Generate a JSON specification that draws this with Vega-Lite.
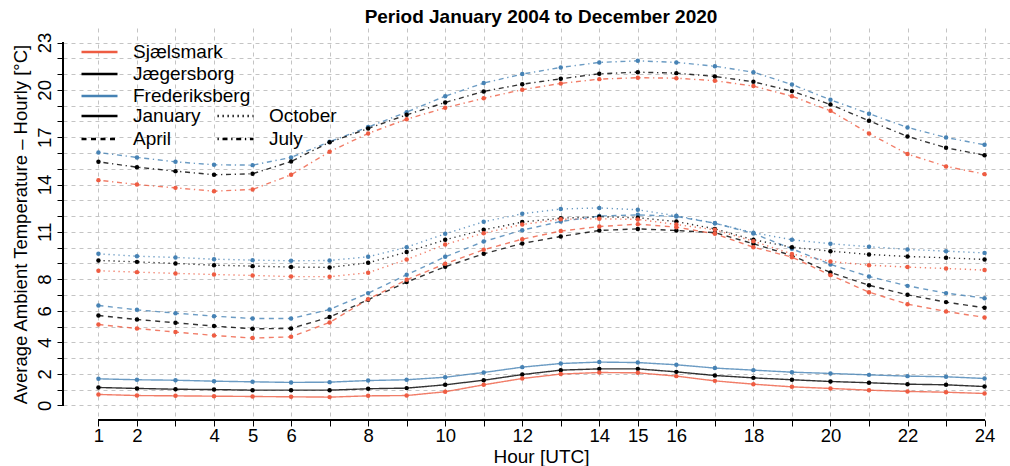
{
  "$schema": "https://vega.github.io/schema/vega-lite/v6.json",
  "width": 947,
  "height": 392,
  "autosize": {"type": "none"},
  "padding": {"left": 63, "top": 28, "right": 0, "bottom": 46},
  "background": "white",
  "title": {
    "text": "Period January 2004 to December 2020",
    "font": "Liberation Sans",
    "fontSize": 19,
    "fontWeight": "bold",
    "color": "black",
    "anchor": "middle",
    "dx": 4.5,
    "offset": 1
  },
  "config": {
    "view": {"stroke": null},
    "font": "Liberation Sans"
  },
  "datasets": {
    "hourly": [
      {"site": "Frederiksberg", "month": "January", "hour": 1, "temp": 1.69},
      {"site": "Frederiksberg", "month": "January", "hour": 2, "temp": 1.63},
      {"site": "Frederiksberg", "month": "January", "hour": 3, "temp": 1.60},
      {"site": "Frederiksberg", "month": "January", "hour": 4, "temp": 1.54},
      {"site": "Frederiksberg", "month": "January", "hour": 5, "temp": 1.50},
      {"site": "Frederiksberg", "month": "January", "hour": 6, "temp": 1.46},
      {"site": "Frederiksberg", "month": "January", "hour": 7, "temp": 1.48},
      {"site": "Frederiksberg", "month": "January", "hour": 8, "temp": 1.58},
      {"site": "Frederiksberg", "month": "January", "hour": 9, "temp": 1.63},
      {"site": "Frederiksberg", "month": "January", "hour": 10, "temp": 1.79},
      {"site": "Frederiksberg", "month": "January", "hour": 11, "temp": 2.09},
      {"site": "Frederiksberg", "month": "January", "hour": 12, "temp": 2.43},
      {"site": "Frederiksberg", "month": "January", "hour": 13, "temp": 2.66},
      {"site": "Frederiksberg", "month": "January", "hour": 14, "temp": 2.75},
      {"site": "Frederiksberg", "month": "January", "hour": 15, "temp": 2.72},
      {"site": "Frederiksberg", "month": "January", "hour": 16, "temp": 2.58},
      {"site": "Frederiksberg", "month": "January", "hour": 17, "temp": 2.37},
      {"site": "Frederiksberg", "month": "January", "hour": 18, "temp": 2.24},
      {"site": "Frederiksberg", "month": "January", "hour": 19, "temp": 2.11},
      {"site": "Frederiksberg", "month": "January", "hour": 20, "temp": 2.03},
      {"site": "Frederiksberg", "month": "January", "hour": 21, "temp": 1.94},
      {"site": "Frederiksberg", "month": "January", "hour": 22, "temp": 1.86},
      {"site": "Frederiksberg", "month": "January", "hour": 23, "temp": 1.82},
      {"site": "Frederiksberg", "month": "January", "hour": 24, "temp": 1.71},

      {"site": "Jægersborg", "month": "January", "hour": 1, "temp": 1.14},
      {"site": "Jægersborg", "month": "January", "hour": 2, "temp": 1.08},
      {"site": "Jægersborg", "month": "January", "hour": 3, "temp": 1.03},
      {"site": "Jægersborg", "month": "January", "hour": 4, "temp": 1.01},
      {"site": "Jægersborg", "month": "January", "hour": 5, "temp": 0.97},
      {"site": "Jægersborg", "month": "January", "hour": 6, "temp": 0.97},
      {"site": "Jægersborg", "month": "January", "hour": 7, "temp": 0.97},
      {"site": "Jægersborg", "month": "January", "hour": 8, "temp": 1.06},
      {"site": "Jægersborg", "month": "January", "hour": 9, "temp": 1.10},
      {"site": "Jægersborg", "month": "January", "hour": 10, "temp": 1.31},
      {"site": "Jægersborg", "month": "January", "hour": 11, "temp": 1.60},
      {"site": "Jægersborg", "month": "January", "hour": 12, "temp": 1.96},
      {"site": "Jægersborg", "month": "January", "hour": 13, "temp": 2.24},
      {"site": "Jægersborg", "month": "January", "hour": 14, "temp": 2.32},
      {"site": "Jægersborg", "month": "January", "hour": 15, "temp": 2.32},
      {"site": "Jægersborg", "month": "January", "hour": 16, "temp": 2.13},
      {"site": "Jægersborg", "month": "January", "hour": 17, "temp": 1.90},
      {"site": "Jægersborg", "month": "January", "hour": 18, "temp": 1.75},
      {"site": "Jægersborg", "month": "January", "hour": 19, "temp": 1.63},
      {"site": "Jægersborg", "month": "January", "hour": 20, "temp": 1.52},
      {"site": "Jægersborg", "month": "January", "hour": 21, "temp": 1.44},
      {"site": "Jægersborg", "month": "January", "hour": 22, "temp": 1.35},
      {"site": "Jægersborg", "month": "January", "hour": 23, "temp": 1.31},
      {"site": "Jægersborg", "month": "January", "hour": 24, "temp": 1.20},

      {"site": "Sjælsmark", "month": "January", "hour": 1, "temp": 0.70},
      {"site": "Sjælsmark", "month": "January", "hour": 2, "temp": 0.63},
      {"site": "Sjælsmark", "month": "January", "hour": 3, "temp": 0.61},
      {"site": "Sjælsmark", "month": "January", "hour": 4, "temp": 0.59},
      {"site": "Sjælsmark", "month": "January", "hour": 5, "temp": 0.57},
      {"site": "Sjælsmark", "month": "January", "hour": 6, "temp": 0.55},
      {"site": "Sjælsmark", "month": "January", "hour": 7, "temp": 0.53},
      {"site": "Sjælsmark", "month": "January", "hour": 8, "temp": 0.61},
      {"site": "Sjælsmark", "month": "January", "hour": 9, "temp": 0.63},
      {"site": "Sjælsmark", "month": "January", "hour": 10, "temp": 0.87},
      {"site": "Sjælsmark", "month": "January", "hour": 11, "temp": 1.31},
      {"site": "Sjælsmark", "month": "January", "hour": 12, "temp": 1.71},
      {"site": "Sjælsmark", "month": "January", "hour": 13, "temp": 1.99},
      {"site": "Sjælsmark", "month": "January", "hour": 14, "temp": 2.09},
      {"site": "Sjælsmark", "month": "January", "hour": 15, "temp": 2.07},
      {"site": "Sjælsmark", "month": "January", "hour": 16, "temp": 1.86},
      {"site": "Sjælsmark", "month": "January", "hour": 17, "temp": 1.56},
      {"site": "Sjælsmark", "month": "January", "hour": 18, "temp": 1.35},
      {"site": "Sjælsmark", "month": "January", "hour": 19, "temp": 1.18},
      {"site": "Sjælsmark", "month": "January", "hour": 20, "temp": 1.08},
      {"site": "Sjælsmark", "month": "January", "hour": 21, "temp": 0.97},
      {"site": "Sjælsmark", "month": "January", "hour": 22, "temp": 0.89},
      {"site": "Sjælsmark", "month": "January", "hour": 23, "temp": 0.84},
      {"site": "Sjælsmark", "month": "January", "hour": 24, "temp": 0.76},

      {"site": "Frederiksberg", "month": "April", "hour": 1, "temp": 6.34},
      {"site": "Frederiksberg", "month": "April", "hour": 2, "temp": 6.06},
      {"site": "Frederiksberg", "month": "April", "hour": 3, "temp": 5.85},
      {"site": "Frederiksberg", "month": "April", "hour": 4, "temp": 5.66},
      {"site": "Frederiksberg", "month": "April", "hour": 5, "temp": 5.51},
      {"site": "Frederiksberg", "month": "April", "hour": 6, "temp": 5.51},
      {"site": "Frederiksberg", "month": "April", "hour": 7, "temp": 6.08},
      {"site": "Frederiksberg", "month": "April", "hour": 8, "temp": 7.12},
      {"site": "Frederiksberg", "month": "April", "hour": 9, "temp": 8.28},
      {"site": "Frederiksberg", "month": "April", "hour": 10, "temp": 9.42},
      {"site": "Frederiksberg", "month": "April", "hour": 11, "temp": 10.39},
      {"site": "Frederiksberg", "month": "April", "hour": 12, "temp": 11.11},
      {"site": "Frederiksberg", "month": "April", "hour": 13, "temp": 11.66},
      {"site": "Frederiksberg", "month": "April", "hour": 14, "temp": 12.00},
      {"site": "Frederiksberg", "month": "April", "hour": 15, "temp": 12.08},
      {"site": "Frederiksberg", "month": "April", "hour": 16, "temp": 11.98},
      {"site": "Frederiksberg", "month": "April", "hour": 17, "temp": 11.55},
      {"site": "Frederiksberg", "month": "April", "hour": 18, "temp": 10.90},
      {"site": "Frederiksberg", "month": "April", "hour": 19, "temp": 9.93},
      {"site": "Frederiksberg", "month": "April", "hour": 20, "temp": 8.94},
      {"site": "Frederiksberg", "month": "April", "hour": 21, "temp": 8.17},
      {"site": "Frederiksberg", "month": "April", "hour": 22, "temp": 7.58},
      {"site": "Frederiksberg", "month": "April", "hour": 23, "temp": 7.12},
      {"site": "Frederiksberg", "month": "April", "hour": 24, "temp": 6.80},

      {"site": "Jægersborg", "month": "April", "hour": 1, "temp": 5.70},
      {"site": "Jægersborg", "month": "April", "hour": 2, "temp": 5.45},
      {"site": "Jægersborg", "month": "April", "hour": 3, "temp": 5.24},
      {"site": "Jægersborg", "month": "April", "hour": 4, "temp": 5.03},
      {"site": "Jægersborg", "month": "April", "hour": 5, "temp": 4.86},
      {"site": "Jægersborg", "month": "April", "hour": 6, "temp": 4.88},
      {"site": "Jægersborg", "month": "April", "hour": 7, "temp": 5.60},
      {"site": "Jægersborg", "month": "April", "hour": 8, "temp": 6.70},
      {"site": "Jægersborg", "month": "April", "hour": 9, "temp": 7.82},
      {"site": "Jægersborg", "month": "April", "hour": 10, "temp": 8.79},
      {"site": "Jægersborg", "month": "April", "hour": 11, "temp": 9.61},
      {"site": "Jægersborg", "month": "April", "hour": 12, "temp": 10.27},
      {"site": "Jægersborg", "month": "April", "hour": 13, "temp": 10.71},
      {"site": "Jægersborg", "month": "April", "hour": 14, "temp": 11.09},
      {"site": "Jægersborg", "month": "April", "hour": 15, "temp": 11.19},
      {"site": "Jægersborg", "month": "April", "hour": 16, "temp": 11.09},
      {"site": "Jægersborg", "month": "April", "hour": 17, "temp": 10.95},
      {"site": "Jægersborg", "month": "April", "hour": 18, "temp": 10.25},
      {"site": "Jægersborg", "month": "April", "hour": 19, "temp": 9.50},
      {"site": "Jægersborg", "month": "April", "hour": 20, "temp": 8.43},
      {"site": "Jægersborg", "month": "April", "hour": 21, "temp": 7.62},
      {"site": "Jægersborg", "month": "April", "hour": 22, "temp": 7.01},
      {"site": "Jægersborg", "month": "April", "hour": 23, "temp": 6.55},
      {"site": "Jægersborg", "month": "April", "hour": 24, "temp": 6.19},

      {"site": "Sjælsmark", "month": "April", "hour": 1, "temp": 5.13},
      {"site": "Sjælsmark", "month": "April", "hour": 2, "temp": 4.88},
      {"site": "Sjælsmark", "month": "April", "hour": 3, "temp": 4.65},
      {"site": "Sjælsmark", "month": "April", "hour": 4, "temp": 4.44},
      {"site": "Sjælsmark", "month": "April", "hour": 5, "temp": 4.27},
      {"site": "Sjælsmark", "month": "April", "hour": 6, "temp": 4.35},
      {"site": "Sjælsmark", "month": "April", "hour": 7, "temp": 5.26},
      {"site": "Sjælsmark", "month": "April", "hour": 8, "temp": 6.73},
      {"site": "Sjælsmark", "month": "April", "hour": 9, "temp": 7.97},
      {"site": "Sjælsmark", "month": "April", "hour": 10, "temp": 8.98},
      {"site": "Sjælsmark", "month": "April", "hour": 11, "temp": 9.87},
      {"site": "Sjælsmark", "month": "April", "hour": 12, "temp": 10.54},
      {"site": "Sjælsmark", "month": "April", "hour": 13, "temp": 11.05},
      {"site": "Sjælsmark", "month": "April", "hour": 14, "temp": 11.34},
      {"site": "Sjælsmark", "month": "April", "hour": 15, "temp": 11.49},
      {"site": "Sjælsmark", "month": "April", "hour": 16, "temp": 11.30},
      {"site": "Sjælsmark", "month": "April", "hour": 17, "temp": 10.88},
      {"site": "Sjælsmark", "month": "April", "hour": 18, "temp": 10.03},
      {"site": "Sjælsmark", "month": "April", "hour": 19, "temp": 9.40},
      {"site": "Sjælsmark", "month": "April", "hour": 20, "temp": 8.26},
      {"site": "Sjælsmark", "month": "April", "hour": 21, "temp": 7.18},
      {"site": "Sjælsmark", "month": "April", "hour": 22, "temp": 6.42},
      {"site": "Sjælsmark", "month": "April", "hour": 23, "temp": 5.96},
      {"site": "Sjælsmark", "month": "April", "hour": 24, "temp": 5.58},

      {"site": "Frederiksberg", "month": "July", "hour": 1, "temp": 16.03},
      {"site": "Frederiksberg", "month": "July", "hour": 2, "temp": 15.72},
      {"site": "Frederiksberg", "month": "July", "hour": 3, "temp": 15.44},
      {"site": "Frederiksberg", "month": "July", "hour": 4, "temp": 15.25},
      {"site": "Frederiksberg", "month": "July", "hour": 5, "temp": 15.23},
      {"site": "Frederiksberg", "month": "July", "hour": 6, "temp": 15.72},
      {"site": "Frederiksberg", "month": "July", "hour": 7, "temp": 16.71},
      {"site": "Frederiksberg", "month": "July", "hour": 8, "temp": 17.64},
      {"site": "Frederiksberg", "month": "July", "hour": 9, "temp": 18.59},
      {"site": "Frederiksberg", "month": "July", "hour": 10, "temp": 19.60},
      {"site": "Frederiksberg", "month": "July", "hour": 11, "temp": 20.43},
      {"site": "Frederiksberg", "month": "July", "hour": 12, "temp": 21.00},
      {"site": "Frederiksberg", "month": "July", "hour": 13, "temp": 21.42},
      {"site": "Frederiksberg", "month": "July", "hour": 14, "temp": 21.74},
      {"site": "Frederiksberg", "month": "July", "hour": 15, "temp": 21.84},
      {"site": "Frederiksberg", "month": "July", "hour": 16, "temp": 21.74},
      {"site": "Frederiksberg", "month": "July", "hour": 17, "temp": 21.50},
      {"site": "Frederiksberg", "month": "July", "hour": 18, "temp": 21.12},
      {"site": "Frederiksberg", "month": "July", "hour": 19, "temp": 20.34},
      {"site": "Frederiksberg", "month": "July", "hour": 20, "temp": 19.37},
      {"site": "Frederiksberg", "month": "July", "hour": 21, "temp": 18.49},
      {"site": "Frederiksberg", "month": "July", "hour": 22, "temp": 17.62},
      {"site": "Frederiksberg", "month": "July", "hour": 23, "temp": 16.98},
      {"site": "Frederiksberg", "month": "July", "hour": 24, "temp": 16.52},

      {"site": "Jægersborg", "month": "July", "hour": 1, "temp": 15.44},
      {"site": "Jægersborg", "month": "July", "hour": 2, "temp": 15.10},
      {"site": "Jægersborg", "month": "July", "hour": 3, "temp": 14.85},
      {"site": "Jægersborg", "month": "July", "hour": 4, "temp": 14.62},
      {"site": "Jægersborg", "month": "July", "hour": 5, "temp": 14.68},
      {"site": "Jægersborg", "month": "July", "hour": 6, "temp": 15.46},
      {"site": "Jægersborg", "month": "July", "hour": 7, "temp": 16.68},
      {"site": "Jægersborg", "month": "July", "hour": 8, "temp": 17.55},
      {"site": "Jægersborg", "month": "July", "hour": 9, "temp": 18.42},
      {"site": "Jægersborg", "month": "July", "hour": 10, "temp": 19.20},
      {"site": "Jægersborg", "month": "July", "hour": 11, "temp": 19.90},
      {"site": "Jægersborg", "month": "July", "hour": 12, "temp": 20.36},
      {"site": "Jægersborg", "month": "July", "hour": 13, "temp": 20.70},
      {"site": "Jægersborg", "month": "July", "hour": 14, "temp": 21.02},
      {"site": "Jægersborg", "month": "July", "hour": 15, "temp": 21.12},
      {"site": "Jægersborg", "month": "July", "hour": 16, "temp": 21.06},
      {"site": "Jægersborg", "month": "July", "hour": 17, "temp": 20.85},
      {"site": "Jægersborg", "month": "July", "hour": 18, "temp": 20.51},
      {"site": "Jægersborg", "month": "July", "hour": 19, "temp": 19.92},
      {"site": "Jægersborg", "month": "July", "hour": 20, "temp": 19.07},
      {"site": "Jægersborg", "month": "July", "hour": 21, "temp": 18.04},
      {"site": "Jægersborg", "month": "July", "hour": 22, "temp": 17.05},
      {"site": "Jægersborg", "month": "July", "hour": 23, "temp": 16.33},
      {"site": "Jægersborg", "month": "July", "hour": 24, "temp": 15.86},

      {"site": "Sjælsmark", "month": "July", "hour": 1, "temp": 14.28},
      {"site": "Sjælsmark", "month": "July", "hour": 2, "temp": 14.00},
      {"site": "Sjælsmark", "month": "July", "hour": 3, "temp": 13.79},
      {"site": "Sjælsmark", "month": "July", "hour": 4, "temp": 13.58},
      {"site": "Sjælsmark", "month": "July", "hour": 5, "temp": 13.69},
      {"site": "Sjælsmark", "month": "July", "hour": 6, "temp": 14.62},
      {"site": "Sjælsmark", "month": "July", "hour": 7, "temp": 16.08},
      {"site": "Sjælsmark", "month": "July", "hour": 8, "temp": 17.24},
      {"site": "Sjælsmark", "month": "July", "hour": 9, "temp": 18.14},
      {"site": "Sjælsmark", "month": "July", "hour": 10, "temp": 18.86},
      {"site": "Sjælsmark", "month": "July", "hour": 11, "temp": 19.47},
      {"site": "Sjælsmark", "month": "July", "hour": 12, "temp": 20.01},
      {"site": "Sjælsmark", "month": "July", "hour": 13, "temp": 20.41},
      {"site": "Sjælsmark", "month": "July", "hour": 14, "temp": 20.68},
      {"site": "Sjælsmark", "month": "July", "hour": 15, "temp": 20.77},
      {"site": "Sjælsmark", "month": "July", "hour": 16, "temp": 20.74},
      {"site": "Sjælsmark", "month": "July", "hour": 17, "temp": 20.58},
      {"site": "Sjælsmark", "month": "July", "hour": 18, "temp": 20.24},
      {"site": "Sjælsmark", "month": "July", "hour": 19, "temp": 19.60},
      {"site": "Sjælsmark", "month": "July", "hour": 20, "temp": 18.67},
      {"site": "Sjælsmark", "month": "July", "hour": 21, "temp": 17.24},
      {"site": "Sjælsmark", "month": "July", "hour": 22, "temp": 15.93},
      {"site": "Sjælsmark", "month": "July", "hour": 23, "temp": 15.15},
      {"site": "Sjælsmark", "month": "July", "hour": 24, "temp": 14.66},

      {"site": "Frederiksberg", "month": "October", "hour": 1, "temp": 9.61},
      {"site": "Frederiksberg", "month": "October", "hour": 2, "temp": 9.46},
      {"site": "Frederiksberg", "month": "October", "hour": 3, "temp": 9.38},
      {"site": "Frederiksberg", "month": "October", "hour": 4, "temp": 9.27},
      {"site": "Frederiksberg", "month": "October", "hour": 5, "temp": 9.21},
      {"site": "Frederiksberg", "month": "October", "hour": 6, "temp": 9.17},
      {"site": "Frederiksberg", "month": "October", "hour": 7, "temp": 9.19},
      {"site": "Frederiksberg", "month": "October", "hour": 8, "temp": 9.42},
      {"site": "Frederiksberg", "month": "October", "hour": 9, "temp": 10.03},
      {"site": "Frederiksberg", "month": "October", "hour": 10, "temp": 10.88},
      {"site": "Frederiksberg", "month": "October", "hour": 11, "temp": 11.64},
      {"site": "Frederiksberg", "month": "October", "hour": 12, "temp": 12.15},
      {"site": "Frederiksberg", "month": "October", "hour": 13, "temp": 12.45},
      {"site": "Frederiksberg", "month": "October", "hour": 14, "temp": 12.52},
      {"site": "Frederiksberg", "month": "October", "hour": 15, "temp": 12.40},
      {"site": "Frederiksberg", "month": "October", "hour": 16, "temp": 12.02},
      {"site": "Frederiksberg", "month": "October", "hour": 17, "temp": 11.55},
      {"site": "Frederiksberg", "month": "October", "hour": 18, "temp": 10.95},
      {"site": "Frederiksberg", "month": "October", "hour": 19, "temp": 10.50},
      {"site": "Frederiksberg", "month": "October", "hour": 20, "temp": 10.25},
      {"site": "Frederiksberg", "month": "October", "hour": 21, "temp": 10.06},
      {"site": "Frederiksberg", "month": "October", "hour": 22, "temp": 9.89},
      {"site": "Frederiksberg", "month": "October", "hour": 23, "temp": 9.78},
      {"site": "Frederiksberg", "month": "October", "hour": 24, "temp": 9.67},

      {"site": "Jægersborg", "month": "October", "hour": 1, "temp": 9.19},
      {"site": "Jægersborg", "month": "October", "hour": 2, "temp": 9.10},
      {"site": "Jægersborg", "month": "October", "hour": 3, "temp": 9.00},
      {"site": "Jægersborg", "month": "October", "hour": 4, "temp": 8.89},
      {"site": "Jægersborg", "month": "October", "hour": 5, "temp": 8.83},
      {"site": "Jægersborg", "month": "October", "hour": 6, "temp": 8.77},
      {"site": "Jægersborg", "month": "October", "hour": 7, "temp": 8.75},
      {"site": "Jægersborg", "month": "October", "hour": 8, "temp": 9.04},
      {"site": "Jægersborg", "month": "October", "hour": 9, "temp": 9.72},
      {"site": "Jægersborg", "month": "October", "hour": 10, "temp": 10.50},
      {"site": "Jægersborg", "month": "October", "hour": 11, "temp": 11.13},
      {"site": "Jægersborg", "month": "October", "hour": 12, "temp": 11.62},
      {"site": "Jægersborg", "month": "October", "hour": 13, "temp": 11.87},
      {"site": "Jægersborg", "month": "October", "hour": 14, "temp": 11.96},
      {"site": "Jægersborg", "month": "October", "hour": 15, "temp": 11.90},
      {"site": "Jægersborg", "month": "October", "hour": 16, "temp": 11.66},
      {"site": "Jægersborg", "month": "October", "hour": 17, "temp": 11.19},
      {"site": "Jægersborg", "month": "October", "hour": 18, "temp": 10.50},
      {"site": "Jægersborg", "month": "October", "hour": 19, "temp": 10.03},
      {"site": "Jægersborg", "month": "October", "hour": 20, "temp": 9.78},
      {"site": "Jægersborg", "month": "October", "hour": 21, "temp": 9.57},
      {"site": "Jægersborg", "month": "October", "hour": 22, "temp": 9.44},
      {"site": "Jægersborg", "month": "October", "hour": 23, "temp": 9.36},
      {"site": "Jægersborg", "month": "October", "hour": 24, "temp": 9.25},

      {"site": "Sjælsmark", "month": "October", "hour": 1, "temp": 8.54},
      {"site": "Sjælsmark", "month": "October", "hour": 2, "temp": 8.45},
      {"site": "Sjælsmark", "month": "October", "hour": 3, "temp": 8.37},
      {"site": "Sjælsmark", "month": "October", "hour": 4, "temp": 8.30},
      {"site": "Sjælsmark", "month": "October", "hour": 5, "temp": 8.24},
      {"site": "Sjælsmark", "month": "October", "hour": 6, "temp": 8.17},
      {"site": "Sjælsmark", "month": "October", "hour": 7, "temp": 8.16},
      {"site": "Sjælsmark", "month": "October", "hour": 8, "temp": 8.41},
      {"site": "Sjælsmark", "month": "October", "hour": 9, "temp": 9.25},
      {"site": "Sjælsmark", "month": "October", "hour": 10, "temp": 10.20},
      {"site": "Sjælsmark", "month": "October", "hour": 11, "temp": 10.92},
      {"site": "Sjælsmark", "month": "October", "hour": 12, "temp": 11.47},
      {"site": "Sjælsmark", "month": "October", "hour": 13, "temp": 11.80},
      {"site": "Sjælsmark", "month": "October", "hour": 14, "temp": 11.83},
      {"site": "Sjælsmark", "month": "October", "hour": 15, "temp": 11.79},
      {"site": "Sjælsmark", "month": "October", "hour": 16, "temp": 11.47},
      {"site": "Sjælsmark", "month": "October", "hour": 17, "temp": 11.13},
      {"site": "Sjælsmark", "month": "October", "hour": 18, "temp": 10.41},
      {"site": "Sjælsmark", "month": "October", "hour": 19, "temp": 9.60},
      {"site": "Sjælsmark", "month": "October", "hour": 20, "temp": 9.13},
      {"site": "Sjælsmark", "month": "October", "hour": 21, "temp": 8.89},
      {"site": "Sjælsmark", "month": "October", "hour": 22, "temp": 8.77},
      {"site": "Sjælsmark", "month": "October", "hour": 23, "temp": 8.68},
      {"site": "Sjælsmark", "month": "October", "hour": 24, "temp": 8.58}
    ]
  },
  "data": {"name": "hourly"},
  "encoding": {
    "x": {
      "field": "hour",
      "type": "quantitative",
      "scale": {"domain": [0.08, 24.66], "nice": false, "zero": false},
      "axis": {
        "values": [1, 2, 3, 4, 5, 6, 7, 8, 9, 10, 11, 12, 13, 14, 15, 16, 17, 18, 19, 20, 21, 22, 23, 24],
        "labelExpr": "indexof([1, 2, 4, 5, 6, 8, 10, 12, 14, 15, 16, 18, 20, 22, 24], datum.value) >= 0 ? datum.label : ''",
        "domain": false,
        "grid": true,
        "gridColor": "#C4C4C4",
        "gridDash": [4, 4],
        "gridWidth": 1,
        "ticks": true,
        "tickColor": "black",
        "tickSize": 6,
        "labelPadding": 0,
        "labelFont": "Liberation Sans",
        "labelFontSize": 18.5,
        "labelColor": "black",
        "labelFlush": false,
        "labelOverlap": false,
        "title": "Hour [UTC]",
        "titleFont": "Liberation Sans",
        "titleFontSize": 19,
        "titleFontWeight": "normal",
        "titleColor": "black",
        "titleX": 478,
        "titleY": 36,
        "titleBaseline": "middle",
        "titleAnchor": null
      }
    },
    "y": {
      "field": "temp",
      "type": "quantitative",
      "scale": {"domain": [-0.92, 23.92], "nice": false, "zero": false},
      "axis": {
        "values": [0, 1, 2, 3, 4, 5, 6, 7, 8, 9, 10, 11, 12, 13, 14, 15, 16, 17, 18, 19, 20, 21, 22, 23],
        "labelExpr": "indexof([0, 2, 4, 6, 8, 11, 14, 17, 20, 23], datum.value) >= 0 ? datum.label : ''",
        "domain": false,
        "grid": true,
        "gridColor": "#C4C4C4",
        "gridDash": [4, 4],
        "gridWidth": 1,
        "tickColor": "black",
        "tickSize": 6,
        "labelPadding": 7,
        "labelAngle": -90,
        "labelAlign": "center",
        "labelBaseline": "alphabetic",
        "labelFont": "Liberation Sans",
        "labelFontSize": 18.5,
        "labelColor": "black",
        "labelFlush": false,
        "labelOverlap": false,
        "title": "Average Ambient Temperature – Hourly [°C]",
        "titleFont": "Liberation Sans",
        "titleFontSize": 18.5,
        "titleFontWeight": "normal",
        "titleColor": "black",
        "titleX": -43,
        "titleY": 196,
        "titleAngle": -90,
        "titleAlign": "center",
        "titleBaseline": "middle"
      }
    }
  },
  "layer": [
    {
      "mark": {"type": "line", "strokeWidth": 1.4, "opacity": 0.8},
      "encoding": {
        "color": {
          "field": "site",
          "type": "nominal",
          "scale": {
            "domain": ["Sjælsmark", "Jægersborg", "Frederiksberg"],
            "range": ["#EE5C42", "#000000", "#4682B4"]
          },
          "legend": {
            "orient": "none",
            "legendX": 17,
            "legendY": 13,
            "title": null,
            "padding": 0,
            "clipHeight": 22,
            "symbolType": "stroke",
            "symbolSize": 1296,
            "symbolStrokeWidth": 2.5,
            "symbolOpacity": 1,
            "labelFont": "Liberation Sans",
            "labelFontSize": 19,
            "labelColor": "black",
            "labelOffset": 14,
            "rowPadding": 0
          }
        },
        "strokeDash": {
          "field": "month",
          "type": "nominal",
          "scale": {
            "domain": ["January", "April", "October", "July"],
            "range": [[1, 0], [5, 4.5], [1.3, 3.7], [1.3, 3.7, 5, 3.7]]
          },
          "legend": {
            "orient": "none",
            "legendX": 17,
            "legendY": 77,
            "title": null,
            "padding": 0,
            "columns": 2,
            "columnPadding": 15,
            "clipHeight": 22,
            "symbolType": "stroke",
            "symbolSize": 1296,
            "symbolStrokeWidth": 2.5,
            "symbolStrokeColor": "black",
            "symbolOpacity": 1,
            "labelFont": "Liberation Sans",
            "labelFontSize": 19,
            "labelColor": "black",
            "labelOffset": 14,
            "rowPadding": 1,
            "encode": {
              "symbols": {
                "update": {
                  "strokeDash": {"signal": "datum.value === 'October' ? [2, 8] : datum.value === 'April' ? [9, 8] : datum.value === 'July' ? [2, 6, 9, 6] : [1, 0]"}
                }
              }
            }
          }
        }
      }
    },
    {
      "mark": {"type": "point", "filled": true, "size": 20, "opacity": 1},
      "encoding": {
        "color": {"field": "site", "type": "nominal", "legend": null},
        "detail": {"field": "month", "type": "nominal"}
      }
    },
    {
      "mark": {"type": "rule", "color": "black", "strokeWidth": 1},
      "encoding": {
        "x": {"datum": 1},
        "x2": {"datum": 24},
        "y": {"datum": -0.92}
      }
    },
    {
      "mark": {"type": "rule", "color": "black", "strokeWidth": 1},
      "encoding": {
        "x": {"datum": 0.08},
        "y": {"datum": 0},
        "y2": {"datum": 23}
      }
    }
  ]
}
